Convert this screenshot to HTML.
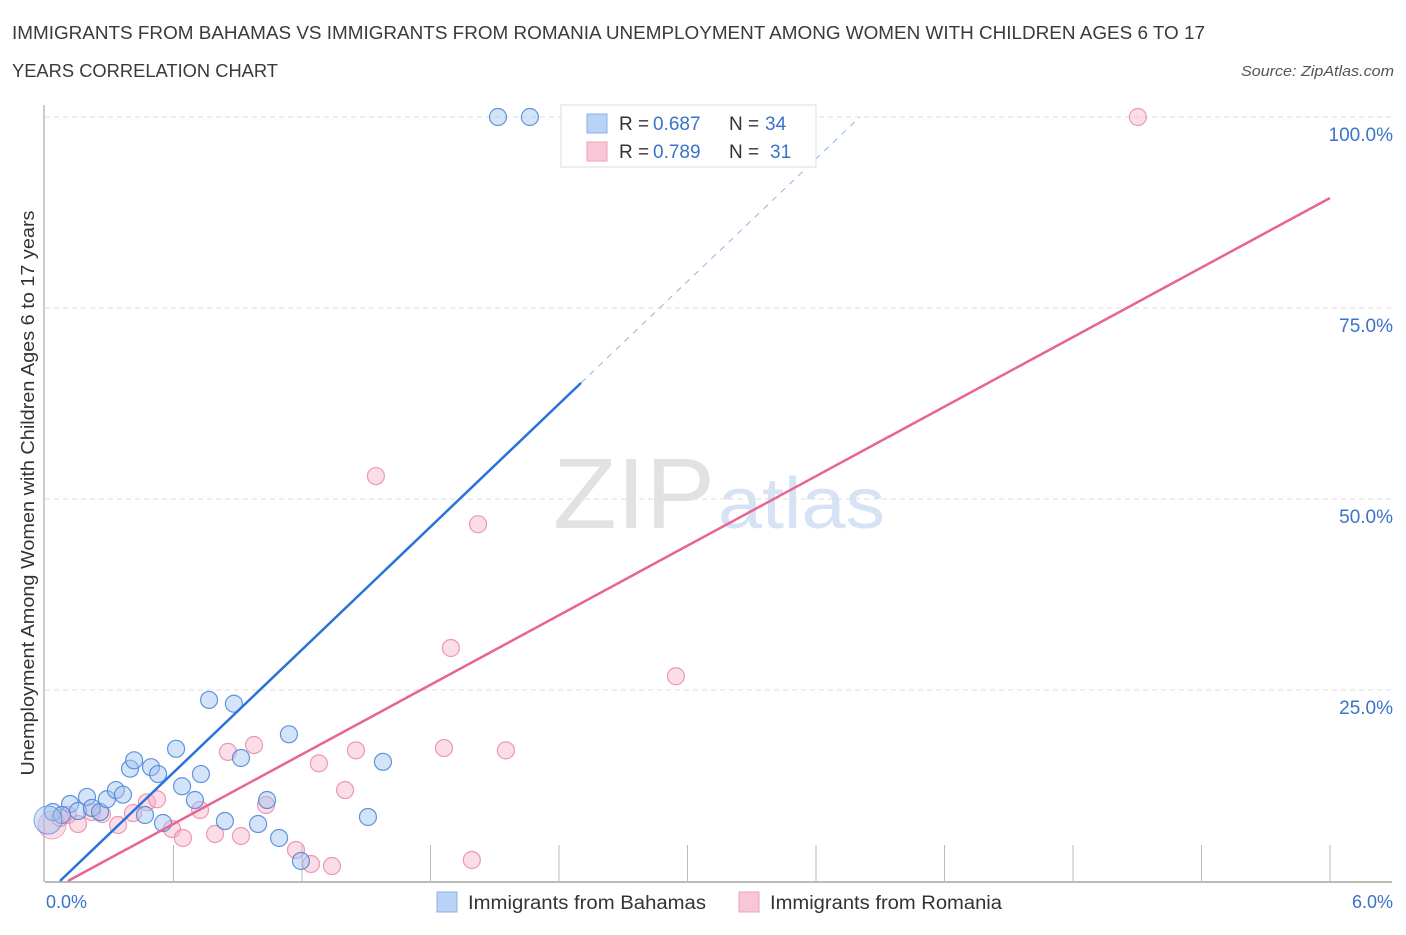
<!DOCTYPE html>
<html><head><meta charset="utf-8"><style>
body{margin:0;background:#fff;font-family:"Liberation Sans",sans-serif;}
svg text{font-family:"Liberation Sans",sans-serif;}
</style></head><body>
<svg width="1406" height="930">
<text x="12" y="39" font-size="18" fill="#3a3a3a" textLength="1193" lengthAdjust="spacingAndGlyphs">IMMIGRANTS FROM BAHAMAS VS IMMIGRANTS FROM ROMANIA UNEMPLOYMENT AMONG WOMEN WITH CHILDREN AGES 6 TO 17</text>
<text x="12" y="77" font-size="18" fill="#3a3a3a" textLength="266" lengthAdjust="spacingAndGlyphs">YEARS CORRELATION CHART</text>
<text x="1394" y="76" font-size="15" fill="#555" font-style="italic" text-anchor="end" textLength="153" lengthAdjust="spacingAndGlyphs">Source: ZipAtlas.com</text>
<text x="715" y="528" font-size="100" fill="#e2e2e2" font-family="Liberation Serif" text-anchor="end" textLength="162" lengthAdjust="spacingAndGlyphs">ZIP</text>
<text x="718" y="528" font-size="72" fill="#d5e3f5" textLength="167" lengthAdjust="spacingAndGlyphs">atlas</text>
<g id="grid"></g>
<g id="marks"></g>
<text transform="translate(34,493) rotate(-90)" font-size="18" fill="#333" text-anchor="middle" textLength="565" lengthAdjust="spacingAndGlyphs">Unemployment Among Women with Children Ages 6 to 17 years</text>
<text x="46" y="908" font-size="18" fill="#3b73c8">0.0%</text>
<text x="1393" y="908" font-size="18" fill="#3b73c8" text-anchor="end">6.0%</text>
<g>
<rect x="437" y="892" width="20" height="20" fill="#b8d3f5" stroke="#8ab0e6"/>
<text x="468" y="909" font-size="19" fill="#333" textLength="238" lengthAdjust="spacingAndGlyphs">Immigrants from Bahamas</text>
<rect x="739" y="892" width="20" height="20" fill="#f8c6d6" stroke="#eea3bb"/>
<text x="770" y="909" font-size="19" fill="#333" textLength="232" lengthAdjust="spacingAndGlyphs">Immigrants from Romania</text>
</g>
<g>
<rect x="561" y="105" width="255" height="62" fill="#fff" stroke="#ddd"/>
<rect x="587" y="114" width="20" height="19" fill="#b8d3f5" stroke="#8ab0e6"/>
<text x="619" y="130" font-size="19" fill="#333">R = <tspan fill="#3b73c8" x="653">0.687</tspan><tspan x="729">N =</tspan><tspan fill="#3b73c8" x="765">34</tspan></text>
<rect x="587" y="142" width="20" height="19" fill="#f8c6d6" stroke="#eea3bb"/>
<text x="619" y="158" font-size="19" fill="#333">R = <tspan fill="#3b73c8" x="653">0.789</tspan><tspan x="729">N =</tspan><tspan fill="#3b73c8" x="770">31</tspan></text>
</g>
</svg>
<script>
const yTicks=[25,50,75,100];
const yTickLabels=["25.0%","50.0%","75.0%","100.0%"];
const bahamasX=[0.037,0.117,0.154,0.196,0.219,0.257,0.289,0.331,0.364,0.397,0.416,0.467,0.495,0.528,0.551,0.612,0.640,0.700,0.728,0.766,0.840,0.882,0.915,0.995,1.037,1.093,1.139,1.195,1.508,1.578,2.115,2.264,0.079,0.014];
const bahamasY=[9.03,10.08,9.16,11.0,9.56,9.03,10.7,11.9,11.3,14.7,15.8,8.64,14.9,14.0,7.59,17.3,12.4,10.6,14.0,23.7,7.85,23.2,16.1,7.46,10.6,5.63,19.2,2.62,8.38,15.6,100,100,8.64,7.98];
const romaniaX=[0.033,0.070,0.107,0.154,0.219,0.266,0.341,0.411,0.476,0.523,0.593,0.644,0.724,0.794,0.854,0.915,0.976,1.032,1.172,1.242,1.279,1.340,1.401,1.452,1.545,1.863,1.895,1.993,2.022,2.152,2.946,5.103];
const romaniaY=[7.33,8.25,8.64,7.46,9.03,8.77,7.33,8.90,10.3,10.7,6.81,5.63,9.29,6.15,16.9,5.89,17.8,9.95,4.06,2.23,15.4,1.96,11.9,17.1,53.0,17.4,30.5,2.75,46.7,17.1,26.8,100];
const bahamasFit=[[0.070,0],[2.503,65.2]];
const bahamasFitExt=[[2.503,65.2],[3.805,100]];
const romaniaFit=[[0.107,0],[6,89.4]];
const X=v=>45+v/6*1285, Y=v=>881-v/100*764;
const NS="http://www.w3.org/2000/svg";
function mk(t,a,p){const e=document.createElementNS(NS,t);for(const k in a)e.setAttribute(k,a[k]);p.appendChild(e);return e;}
const g=document.getElementById('grid'), m=document.getElementById('marks');
yTicks.forEach((t,i)=>{
 const l=mk('line',{x1:45,x2:1392,y1:Y(t),y2:Y(t),stroke:'#ddd','stroke-dasharray':'5,4'},g);
 
 
 const tx=mk('text',{x:1393,y:Y(t)+24,'font-size':19,fill:'#3b73c8','text-anchor':'end'},g);
 tx.textContent=yTickLabels[i];
 
 
});
const ax=mk('line',{x1:45,x2:1392,y1:882,y2:882,stroke:'#bbb','stroke-width':2},g);


const ay=mk('line',{x1:44,x2:44,y1:105,y2:882,stroke:'#bbb','stroke-width':1.5},g);


for(let i=1;i<=10;i++){
 const t=mk('line',{x1:X(i*0.6),x2:X(i*0.6),y1:845,y2:882,stroke:'#bbb'},g);
 
 
}
function pts(xs,ys,fill,stroke,name){
 xs.forEach((x,i)=>{
  const big=(i===xs.length-1&&name==='bahamas-point')||(name==='romania-point'&&i===0);
  const c=mk('circle',{cx:X(x),cy:Y(ys[i]),r:big?14:8.5,fill:fill,stroke:stroke,'stroke-width':big?0.8:1.2},m);
  
  
 });
}
pts(romaniaX,romaniaY,'rgba(246,170,195,0.4)','rgba(232,130,165,0.8)','romania-point');
pts(bahamasX,bahamasY,'rgba(160,195,240,0.45)','rgba(70,130,215,0.85)','bahamas-point');
function line(p,col,name,dash){
 const l=mk('line',{x1:X(p[0][0]),y1:Y(p[0][1]),x2:X(p[1][0]),y2:Y(p[1][1]),stroke:col,'stroke-width':dash?1:2.5},m);
 if(dash)l.setAttribute('stroke-dasharray','6,6');
 
 
}
line(romaniaFit,'#e8658f','romania-trendline');
line(bahamasFit,'#2a72d8','bahamas-trendline');
line(bahamasFitExt,'#8fb5e6','bahamas-trendline-extension',true);
</script>
</body></html>
